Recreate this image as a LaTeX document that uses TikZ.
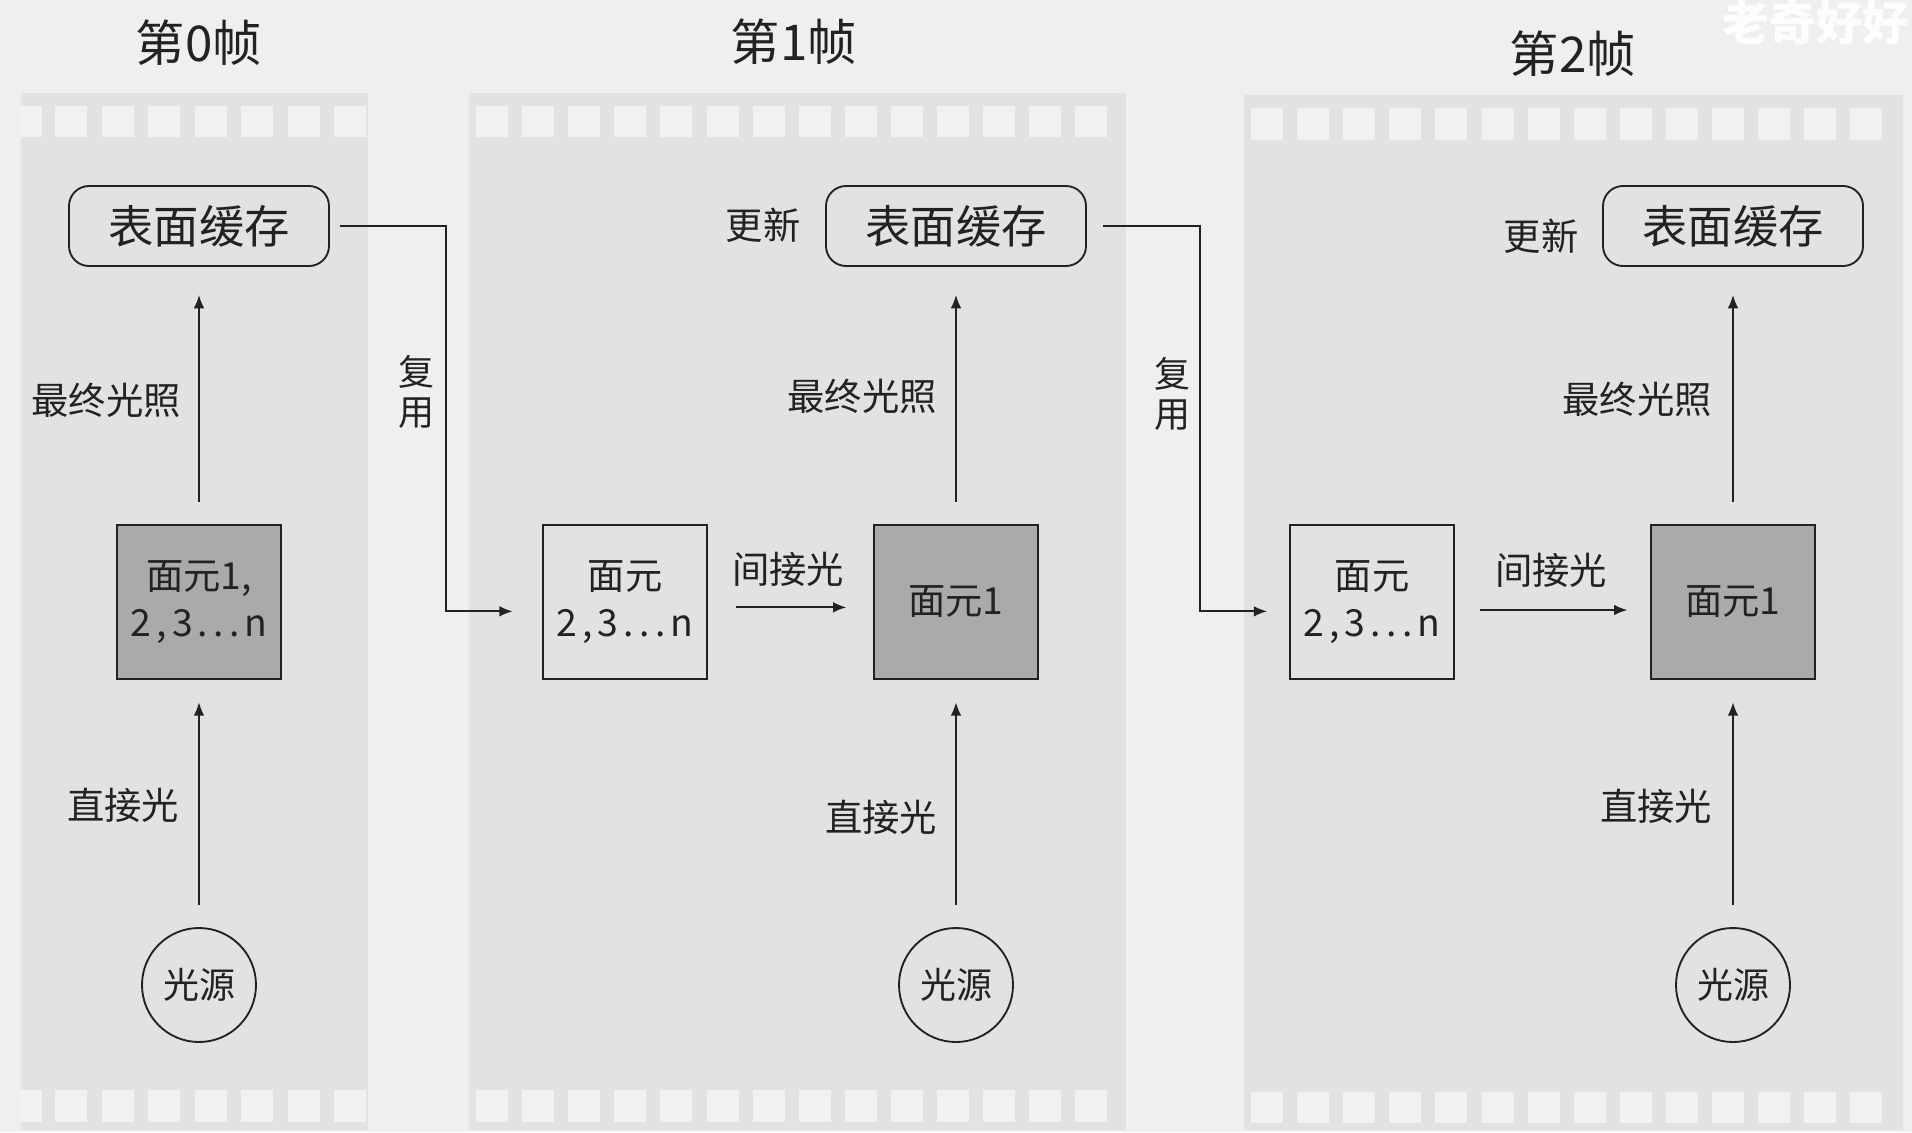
\documentclass[tikz,border=0pt]{standalone}
\usepackage{fontspec}
\setmainfont{Noto Sans CJK SC}
\usetikzlibrary{arrows.meta}

\definecolor{pagebg}{HTML}{EFEFEF}
\definecolor{filmgray}{HTML}{E2E2E2}
\definecolor{holegray}{HTML}{F1F1F1}
\definecolor{litgray}{HTML}{AAAAAA}
\definecolor{ink}{HTML}{222222}

\newcommand{\wide}[1]{{\addfontfeature{LetterSpace=14}#1}}

\begin{document}
\begin{tikzpicture}[x=0.75pt,y=-0.75pt,>={Latex[length=10pt,width=8pt]},
  cache/.style={draw=ink,line width=1.4pt,rounded corners=15pt,minimum width=195pt,minimum height=60pt,text=ink,font=\fontsize{34}{40}\selectfont},
  patch/.style={draw=ink,line width=1.4pt,minimum width=123pt,minimum height=115pt,inner sep=0pt,align=center,text=ink,font=\fontsize{28}{35}\selectfont},
  lamp/.style={draw=ink,line width=1.4pt,circle,minimum size=85.5pt,inner sep=0pt,text=ink,font=\fontsize{27}{32}\selectfont},
  lbl/.style={inner sep=0pt,text=ink,font=\fontsize{28}{36}\selectfont},
  vlbl/.style={inner sep=0pt,align=center,text=ink,font=\fontsize{27}{30}\selectfont},
  frametitle/.style={inner sep=0pt,text=ink,font=\fontsize{37}{44}\selectfont},
  flow/.style={draw=ink,line width=1.4pt,->}]

\useasboundingbox (0,0) rectangle (1912,1132);
\fill [pagebg] (0,0) rectangle (1912,1132);

\fill [filmgray] (21,93) rectangle (368,1130);
\fill [filmgray] (469,93) rectangle (1126,1130);
\fill [filmgray] (1244,95) rectangle (1903,1130);

\fill [holegray] (21,106) rectangle (42,137);
\fill [holegray] (21,1090) rectangle (42,1122);
\foreach \i in {0,...,6} {
  \fill [holegray] ({55+46.5*\i},106) rectangle +(32,31);
  \fill [holegray] ({55+46.5*\i},1090) rectangle +(32,32);
}
\foreach \i in {0,...,13} {
  \fill [holegray] ({476+46.1*\i},106) rectangle +(32,31);
  \fill [holegray] ({476+46.1*\i},1090) rectangle +(32,32);
  \fill [holegray] ({1251+46.1*\i},108) rectangle +(32,32);
  \fill [holegray] ({1251+46.1*\i},1092) rectangle +(32,31);
}

\node [text=white,opacity=0.9,font=\fontsize{35}{40}\selectfont\bfseries] (mark) at (1816,23) {老奇好好};

\node [frametitle] (title0) at (199,43) {第0帧};
\node [frametitle] (title1) at (794,42) {第1帧};
\node [frametitle] (title2) at (1573,54) {第2帧};

% frame 0
\node [cache] (cache0) at (199,226) {表面缓存};
\node [patch,fill=litgray] (lit0) at (199,602) {面元1,\\\wide{2,3...n}};
\node [lamp] (lamp0) at (199,985) {光源};
\node [lbl] (final0) at (106,400) {最终光照};
\node [lbl] (direct0) at (123,805) {直接光};
\node [vlbl] (reuse0) at (416,392) {复\\用};

% frame 1
\node [lbl] (update1) at (763,225) {更新};
\node [cache] (cache1) at (956,226) {表面缓存};
\node [patch] (rest1) at (625,602) {面元\\\wide{2,3...n}};
\node [patch,fill=litgray] (lit1) at (956,602) {面元1};
\node [lamp] (lamp1) at (956,985) {光源};
\node [lbl] (final1) at (862,396) {最终光照};
\node [lbl] (indirect1) at (788,569) {间接光};
\node [lbl] (direct1) at (881,817) {直接光};
\node [vlbl] (reuse1) at (1172,394) {复\\用};

% frame 2
\node [lbl] (update2) at (1541,236) {更新};
\node [cache] (cache2) at (1733,226) {表面缓存};
\node [patch] (rest2) at (1372,602) {面元\\\wide{2,3...n}};
\node [patch,fill=litgray] (lit2) at (1733,602) {面元1};
\node [lamp] (lamp2) at (1733,985) {光源};
\node [lbl] (final2) at (1637,399) {最终光照};
\node [lbl] (indirect2) at (1551,570) {间接光};
\node [lbl] (direct2) at (1656,806) {直接光};

\foreach \k in {0,1,2} {
  \draw [flow,shorten <=16.5pt,shorten >=21pt] (lit\k) -- (cache\k);
  \draw [flow,shorten <=16.5pt,shorten >=17pt] (lamp\k) -- (lit\k);
}
\draw [flow,shorten <=21pt,shorten >=20pt] ([yshift=-4pt]rest1.east) -- ([yshift=-4pt]lit1.west);
\draw [flow,shorten <=19pt,shorten >=17pt] ([yshift=-6pt]rest2.east) -- ([yshift=-6pt]lit2.west);

\draw [flow,shorten >=22pt] ([xshift=7.5pt]cache0.east) -| ([xshift=-72pt,yshift=-7pt]rest1.west) -- ([yshift=-7pt]rest1.west);
\draw [flow,shorten >=16.5pt] ([xshift=12pt]cache1.east) -| ([xshift=-67pt,yshift=-7pt]rest2.west) -- ([yshift=-7pt]rest2.west);

\end{tikzpicture}
\end{document}
